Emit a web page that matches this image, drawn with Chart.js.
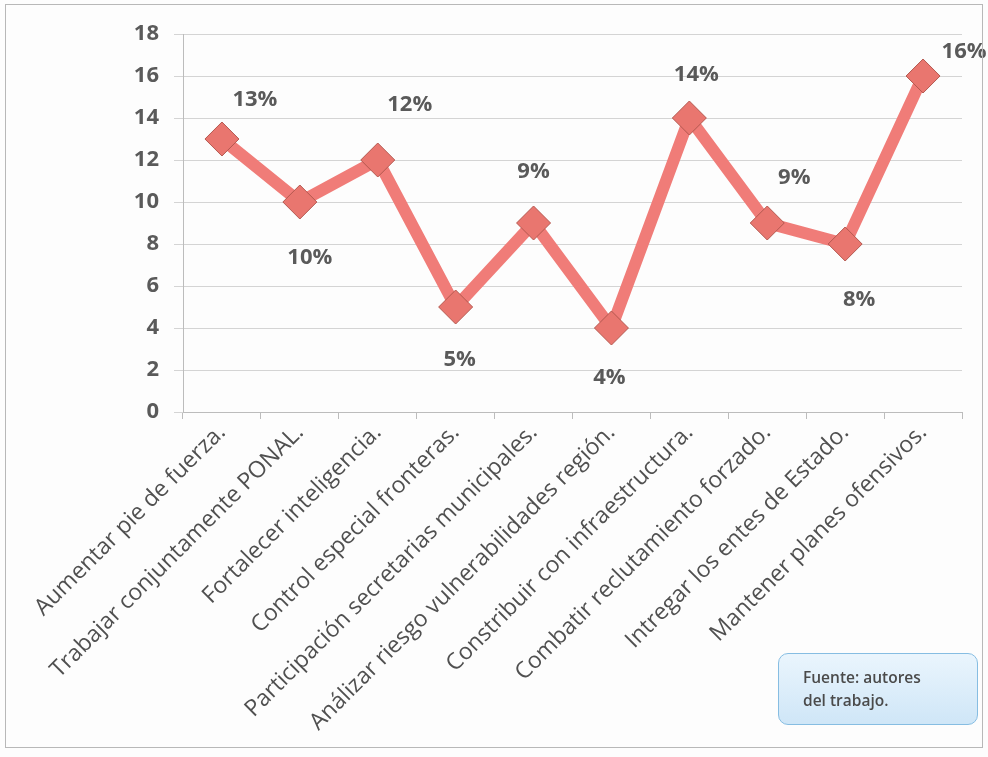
<!DOCTYPE html>
<html>
<head>
<meta charset="utf-8">
<script src="https://cdn.jsdelivr.net/npm/chart.js@4.4.1/dist/chart.umd.min.js"></script>
<style>
  html, body { margin: 0; padding: 0; background: #fdfdfd; }
  #wrap { position: relative; width: 988px; height: 757px; }
  #frame { position: absolute; left: 5px; top: 4px; width: 978px; height: 744px; border: 1px solid #b8b8b8; box-sizing: border-box; pointer-events: none; }
  #fuente {
    position: absolute; left: 778px; top: 653px; width: 200px; height: 72px;
    box-sizing: border-box; border: 1px solid #86bde2; border-radius: 10px;
    background: linear-gradient(#eaf5fd, #cfe6f7);
    font-family: 'Open Sans', sans-serif; font-size: 15.5px; font-weight: 600; color: #4a4a4a;
    padding: 12px 0 0 24px; line-height: 23px;
  }
</style>
</head>
<body>
<div id="wrap">
  <canvas id="grafica" width="988" height="757"></canvas>
  <div id="frame"></div>
  <div id="fuente">Fuente: autores<br>del trabajo.</div>
</div>
<script>
// Datos
const categorias = [
  'Aumentar pie de fuerza.',
  'Trabajar conjuntamente PONAL.',
  'Fortalecer inteligencia.',
  'Control especial fronteras.',
  'Participación secretarias municipales.',
  'Análizar riesgo vulnerabilidades región.',
  'Constribuir con infraestructura.',
  'Combatir reclutamiento forzado.',
  'Intregar los entes de Estado.',
  'Mantener planes ofensivos.'
];
const porcentajes = [13, 10, 12, 5, 9, 4, 14, 9, 8, 16];
const marcasY = [0, 2, 4, 6, 8, 10, 12, 14, 16, 18];

// desplazamiento de cada etiqueta respecto a su punto (solo estilo)
const offsetsEtiquetas = [
  [33, -39], [10, 56], [32, -55], [4, 53], [0, -51],
  [-2, 50], [7, -43], [27, -45], [14, 56], [41, -24]
];

const etiquetasPlugin = {
  id: 'etiquetas',
  afterDatasetsDraw(chart) {
    const c = chart.ctx;
    const meta = chart.getDatasetMeta(0);
    c.save();
    c.font = "bold 22px 'Open Sans', sans-serif";
    c.fillStyle = '#5a5a5a';
    c.textAlign = 'center';
    c.textBaseline = 'middle';
    meta.data.forEach((pt, i) => {
      const [dx, dy] = offsetsEtiquetas[i];
      c.fillText(porcentajes[i] + '%', pt.x + dx, pt.y + dy);
    });
    c.restore();
  }
};

new Chart(document.getElementById('grafica'), {
  type: 'line',
  data: {
    labels: categorias,
    datasets: [{
      data: porcentajes,
      borderColor: '#f07c78',
      borderWidth: 12,
      tension: 0,
      pointStyle: 'rectRot',
      pointRadius: 17,
      pointBackgroundColor: '#e9766f',
      pointBorderColor: '#b4584f',
      pointBorderWidth: 1
    }]
  },
  options: {
    responsive: false,
    animation: false,
    layout: { padding: { top: 34, right: 26, left: 0, bottom: 0 } },
    plugins: {
      legend: { display: false },
      tooltip: { enabled: false }
    },
    scales: {
      y: {
        min: 0,
        max: 18,
        afterFit(scale) { scale.width = 183; },
        afterBuildTicks(scale) { scale.ticks = marcasY.map(v => ({ value: v })); },
        grid: { color: '#d4d4d4', lineWidth: 1, tickLength: 9 },
        border: { color: '#bcbcbc' },
        ticks: {
          color: '#5a5a5a',
          padding: 15,
          font: { family: "'Open Sans', sans-serif", size: 22, weight: 'bold' }
        }
      },
      x: {
        offset: true,
        afterFit(scale) { scale.height = 345; },
        grid: { drawOnChartArea: false, offset: true, color: '#bcbcbc', tickLength: 7 },
        border: { color: '#bcbcbc' },
        ticks: {
          color: '#505050',
          minRotation: 45,
          maxRotation: 45,
          autoSkip: false,
          padding: 0,
          font: { family: "'Open Sans', sans-serif", size: 23 }
        }
      }
    }
  },
  plugins: [etiquetasPlugin]
});
</script>
</body>
</html>
